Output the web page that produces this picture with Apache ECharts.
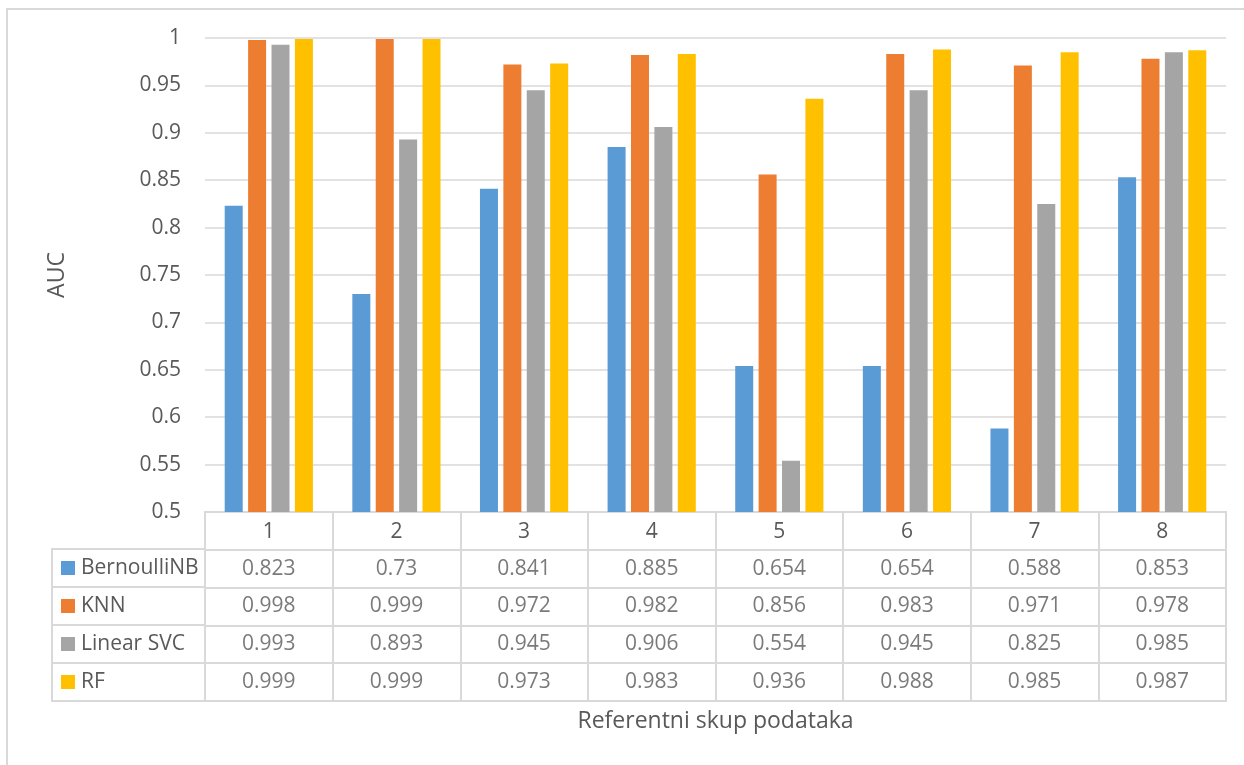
<!DOCTYPE html>
<html>
<head>
<meta charset="utf-8">
<script src="https://cdn.jsdelivr.net/npm/echarts@6/dist/echarts.min.js"></script>
<style>
html,body{margin:0;padding:0;background:#fff;}
#c{width:1244px;height:765px;}
</style>
</head>
<body>
<div id="c"></div>
<script>
const categories = ['1','2','3','4','5','6','7','8'];
const seriesNames = ['BernoulliNB','KNN','Linear SVC','RF'];
const bernoulliNB = [0.823, 0.73, 0.841, 0.885, 0.654, 0.654, 0.588, 0.853];
const knn = [0.998, 0.999, 0.972, 0.982, 0.856, 0.983, 0.971, 0.978];
const linearSVC = [0.993, 0.893, 0.945, 0.906, 0.554, 0.945, 0.825, 0.985];
const rf = [0.999, 0.999, 0.973, 0.983, 0.936, 0.988, 0.985, 0.987];
const colors = ['#5B9BD5','#ED7D31','#A5A5A5','#FFC000'];
const yTicks = {min: 0.5, max: 1, interval: 0.05};
const xTitle = 'Referentni skup podataka';
const yTitle = 'AUC';

const allSeries = [bernoulliNB, knn, linearSVC, rf];
const FONT = 'Open Sans';
const TXT = '#595959';
const LINE = '#d9d9d9';
const FS = 21;
const TFS = 23;

const tableCells = [];
allSeries.forEach((arr, si) => {
  arr.forEach((v, ci) => tableCells.push([categories[ci], seriesNames[si], v]));
});

const rich = {};
colors.forEach((c, i) => { rich['s' + i] = {backgroundColor: c, width: 14, height: 14}; });
rich.t = {fontFamily: FONT, fontSize: FS, color: TXT, padding: [0, 0, 0, 6]};

const chart = echarts.init(document.getElementById('c'));
chart.setOption({
  animation: false,
  backgroundColor: '#fff',
  textStyle: {fontFamily: FONT},
  graphic: [{
    type: 'rect', shape: {x: 7, y: 9, width: 1400, height: 900},
    style: {fill: 'none', stroke: LINE, lineWidth: 2}, silent: true, z: -10
  }],
  grid: [
    {left: 205, right: 18, top: 38, height: 474},
    {left: 205, right: 18, top: 512, height: 189, show: true, borderColor: LINE, borderWidth: 2},
    {left: 52, width: 153, top: 549, height: 152, show: true, borderColor: LINE, borderWidth: 2}
  ],
  xAxis: [
    {gridIndex: 0, type: 'category', data: categories,
     axisLine: {show: true, lineStyle: {color: LINE, width: 2}},
     axisTick: {show: false},
     axisLabel: {fontFamily: FONT, fontSize: FS, color: TXT, margin: 10}},
    {gridIndex: 1, type: 'category', data: categories,
     axisLine: {show: false}, axisTick: {show: false}, axisLabel: {show: false},
     splitLine: {show: true, interval: 0, lineStyle: {color: LINE, width: 2}},
     name: xTitle, nameLocation: 'middle', nameGap: 9,
     nameTextStyle: {fontFamily: FONT, fontSize: TFS, color: TXT, verticalAlign: 'top'}},
    {gridIndex: 2, type: 'value', show: false, min: 0, max: 1}
  ],
  yAxis: [
    {gridIndex: 0, type: 'value', min: yTicks.min, max: yTicks.max, interval: yTicks.interval,
     axisLine: {show: false}, axisTick: {show: false},
     axisLabel: {fontFamily: FONT, fontSize: FS, color: TXT, margin: 24,
       formatter: v => String(+v.toFixed(2))},
     splitLine: {lineStyle: {color: LINE, width: 1.5}},
     name: yTitle, nameLocation: 'middle', nameGap: 136, nameRotate: 90,
     nameTextStyle: {fontFamily: FONT, fontSize: TFS, color: TXT}},
    {gridIndex: 1, type: 'category', data: [''].concat(seriesNames), inverse: true,
     axisLine: {show: false}, axisTick: {show: false}, axisLabel: {show: false},
     splitLine: {show: true, interval: 0, lineStyle: {color: LINE, width: 2}}},
    {gridIndex: 2, type: 'category', data: seriesNames, inverse: true,
     axisLine: {show: false}, axisTick: {show: false},
     axisLabel: {inside: true, margin: 9, align: 'left',
       formatter: (v, i) => '{s' + i + '|}{t|' + v + '}', rich: rich},
     splitLine: {show: true, interval: 0, lineStyle: {color: LINE, width: 2}}}
  ],
  series: allSeries.map((arr, i) => ({
    name: seriesNames[i], type: 'bar', xAxisIndex: 0, yAxisIndex: 0,
    data: arr, barWidth: 18, barGap: '30%',
    itemStyle: {color: colors[i]}
  })).concat([
    {type: 'scatter', xAxisIndex: 1, yAxisIndex: 1, data: tableCells,
     symbolSize: 0, itemStyle: {color: 'rgba(0,0,0,0)'}, silent: true,
     label: {show: true, position: 'inside', formatter: p => String(p.value[2]),
       fontFamily: FONT, fontSize: FS, color: TXT}},
    {type: 'scatter', xAxisIndex: 2, yAxisIndex: 2, data: [], silent: true}
  ])
});
</script>
</body>
</html>
